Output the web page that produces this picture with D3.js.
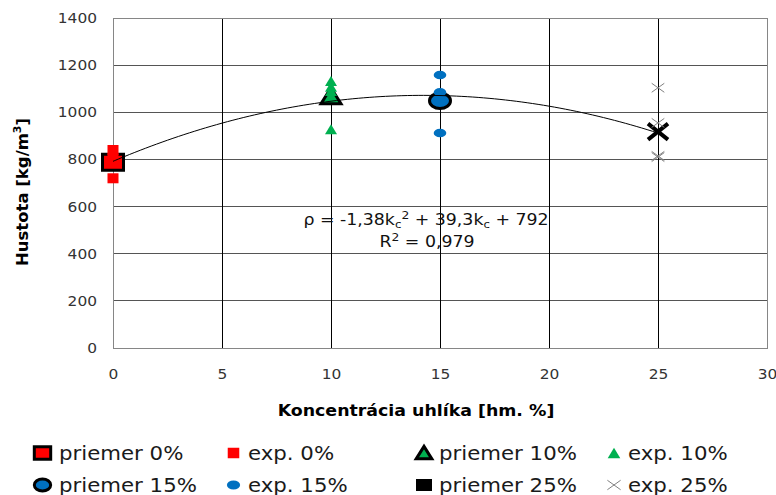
<!DOCTYPE html>
<html>
<head>
<meta charset="utf-8">
<script src="https://cdn.jsdelivr.net/npm/d3@7"></script>
<style>
  body { margin: 0; background: #fff; }
  text { font-family: "DejaVu Sans", Verdana, sans-serif; }
</style>
</head>
<body>
<svg id="chart" width="776" height="495"></svg>
<script>
// concentrations and measured densities
const concentrations = [0, 10, 15, 25];
const priemer = [788, 1068, 1049, 918];
const exp0 = [840, 805, 790, 720];
const exp10 = [1133, 1108, 1090, 928];
const exp15 = [1158, 1085, 912];
const exp25 = [1104, 955, 815, 810];
const fitCoef = [-1.38, 39.3, 792]; // rho = a*k^2 + b*k + c
const xTicks = [0, 5, 10, 15, 20, 25, 30];
const yTicks = [0, 200, 400, 600, 800, 1000, 1200, 1400];
const legendLabels = ["priemer 0%", "exp. 0%", "priemer 10%", "exp. 10%",
  "priemer 15%", "exp. 15%", "priemer 25%", "exp. 25%"];

const margin = { top: 18, right: 9, bottom: 147, left: 113 },
  width = 776 - margin.left - margin.right,
  height = 495 - margin.top - margin.bottom;

const SX = 1.12; // horizontal stretch of glyphs in the original picture

const svg = d3.select("#chart");
const g = svg.append("g").attr("transform", `translate(${margin.left},${margin.top})`);

const x = d3.scaleLinear().domain([0, 30]).range([0, width]);
const y = d3.scaleLinear().domain([0, 1400]).range([height, 0]);

function stretch(sel, k) {
  sel.each(function () {
    const w = this.getComputedTextLength();
    d3.select(this).attr("textLength", w * k).attr("lengthAdjust", "spacingAndGlyphs");
  });
}

// horizontal gridlines
g.append("g")
  .selectAll("line")
  .data(yTicks.slice(1, -1))
  .join("line")
  .attr("x1", 0).attr("x2", width)
  .attr("y1", d => y(d)).attr("y2", d => y(d))
  .attr("stroke", "#555").attr("shape-rendering", "crispEdges");

// vertical gridlines
g.append("g")
  .selectAll("line")
  .data(xTicks.slice(1, -1))
  .join("line")
  .attr("x1", d => x(d)).attr("x2", d => x(d))
  .attr("y1", 0).attr("y2", height)
  .attr("stroke", "#000").attr("shape-rendering", "crispEdges");

// plot border
g.append("rect")
  .attr("x", 0).attr("y", 0).attr("width", width).attr("height", height)
  .attr("fill", "none").attr("stroke", "#868686").attr("shape-rendering", "crispEdges");

// axes (labels only)
const yAxis = g.append("g")
  .call(d3.axisLeft(y).tickValues(yTicks).tickFormat(d3.format("d")).tickSize(0).tickPadding(16));
const xAxis = g.append("g").attr("transform", `translate(0,${height})`)
  .call(d3.axisBottom(x).tickValues(xTicks).tickFormat(d3.format("d")).tickSize(0).tickPadding(21));
[yAxis, xAxis].forEach(a => {
  a.select(".domain").remove();
  a.selectAll("text")
    .attr("font-family", "DejaVu Sans")
    .attr("font-size", "14px")
    .attr("fill", "#333");
  stretch(a.selectAll("text"), 1.1);
});

// markers
const RED = "#ff0000", GREEN = "#00b050", BLUE = "#0070c0";

function marker(sel, type, s) {
  // s: scale factor, shapes are wider than tall as in the picture
  if (type === "bigSquare") {
    sel.append("rect").attr("x", -10.5 * s).attr("y", -8 * s).attr("width", 21 * s).attr("height", 16 * s)
      .attr("fill", RED).attr("stroke", "#000").attr("stroke-width", 3);
  } else if (type === "square") {
    sel.append("rect").attr("x", -5.5 * s).attr("y", -5 * s).attr("width", 11 * s).attr("height", 10 * s)
      .attr("fill", RED);
  } else if (type === "bigTriangle") {
    sel.append("path").attr("d", `M0,${-8.5 * s}L${10 * s},${7.5 * s}L${-10 * s},${7.5 * s}Z`)
      .attr("fill", GREEN).attr("stroke", "#000").attr("stroke-width", 3).attr("stroke-linejoin", "miter");
  } else if (type === "triangle") {
    sel.append("path").attr("d", `M0,${-5 * s}L${6 * s},${5 * s}L${-6 * s},${5 * s}Z`)
      .attr("fill", GREEN);
  } else if (type === "bigCircle") {
    sel.append("ellipse").attr("rx", 10.5 * s).attr("ry", 7.8 * s)
      .attr("fill", BLUE).attr("stroke", "#000").attr("stroke-width", 3);
  } else if (type === "circle") {
    sel.append("ellipse").attr("rx", 6.3 * s).attr("ry", 4.3 * s).attr("fill", BLUE);
  } else if (type === "bigX") {
    sel.append("path").attr("d", `M${-10 * s},${-8 * s}L${10 * s},${8 * s}M${10 * s},${-8 * s}L${-10 * s},${8 * s}`)
      .attr("stroke", "#000").attr("stroke-width", 4).attr("fill", "none");
  } else if (type === "x") {
    sel.append("path").attr("d", `M${-6.3 * s},${-4.5 * s}L${6.3 * s},${4.5 * s}M${6.3 * s},${-4.5 * s}L${-6.3 * s},${4.5 * s}`)
      .attr("stroke", "#808080").attr("stroke-width", 1).attr("fill", "none");
  } else if (type === "blackSquare") {
    sel.append("rect").attr("x", -8 * s).attr("y", -6 * s).attr("width", 16 * s).attr("height", 12 * s)
      .attr("fill", "#000");
  }
}

const series = [
  { k: concentrations[0], vals: [priemer[0]], type: "bigSquare" },
  { k: concentrations[0], vals: exp0, type: "square" },
  { k: concentrations[1], vals: [priemer[1]], type: "bigTriangle" },
  { k: concentrations[1], vals: exp10, type: "triangle" },
  { k: concentrations[2], vals: [priemer[2]], type: "bigCircle" },
  { k: concentrations[2], vals: exp15, type: "circle" },
  { k: concentrations[3], vals: [priemer[3]], type: "bigX" },
  { k: concentrations[3], vals: exp25, type: "x" }
];

series.forEach(sr => {
  sr.vals.forEach(v => {
    const m = g.append("g").attr("transform", `translate(${x(sr.k)},${y(v)})`);
    marker(m, sr.type, 1);
  });
});

// polynomial trendline from the printed equation
const fitX = d3.range(0, 25.01, 0.25);
const line = d3.line()
  .x(d => x(d))
  .y(d => y(fitCoef[0] * d * d + fitCoef[1] * d + fitCoef[2]))
  .curve(d3.curveBasis);
g.append("path")
  .datum(fitX)
  .attr("d", line)
  .attr("fill", "none")
  .attr("stroke", "#000")
  .attr("stroke-width", 1);

// equation text
const eq = svg.append("g").attr("transform", `translate(426,225) scale(${SX},1)`);
const eqText = eq.append("text").attr("text-anchor", "middle").attr("font-size", "15.5px").attr("fill", "#111");
eqText.append("tspan").text("ρ = -1,38k");
eqText.append("tspan").attr("font-size", "10.5px").attr("dy", 3).text("c");
eqText.append("tspan").attr("font-size", "11px").attr("dy", -9).text("2");
eqText.append("tspan").attr("dy", 6).text(" + 39,3k");
eqText.append("tspan").attr("font-size", "10.5px").attr("dy", 3).text("c");
eqText.append("tspan").attr("dy", -3).text(" + 792");

const r2 = svg.append("g").attr("transform", `translate(427,246.5) scale(${SX},1)`);
const r2Text = r2.append("text").attr("text-anchor", "middle").attr("font-size", "15.5px").attr("fill", "#111");
r2Text.append("tspan").text("R");
r2Text.append("tspan").attr("font-size", "11px").attr("dy", -6).text("2");
r2Text.append("tspan").attr("dy", 6).text(" = 0,979");

// axis titles
const xt = svg.append("text")
  .attr("x", 416).attr("y", 416)
  .attr("text-anchor", "middle")
  .attr("font-size", "15.5px").attr("font-weight", "bold")
  .text("Koncentrácia uhlíka [hm. %]");
stretch(xt, SX);

const yt = svg.append("text")
  .attr("transform", "translate(28,192) rotate(-90)")
  .attr("text-anchor", "middle")
  .attr("font-size", "16.5px").attr("font-weight", "bold");
yt.append("tspan").text("Hustota [kg/m");
yt.append("tspan").attr("font-size", "11px").attr("dy", -7).text("3");
yt.append("tspan").attr("dy", 7).text("]");

// legend
const legendTypes = ["bigSquare", "square", "bigTriangle", "triangle", "bigCircle", "circle", "blackSquare", "x"];
const colX = [42.5, 233.5, 424, 614];
const textX = [59, 248, 439, 628];
const rowY = [453, 485];
legendLabels.forEach((lab, i) => {
  const row = Math.floor(i / 4), col = i % 4;
  const isBig = ["bigSquare", "bigTriangle", "bigCircle"].includes(legendTypes[i]);
  const m = svg.append("g").attr("transform", `translate(${colX[col]},${rowY[row]})`);
  marker(m, legendTypes[i], isBig ? 0.78 : (legendTypes[i] === "blackSquare" ? 1 : 1.05));
  const t = svg.append("text")
    .attr("x", textX[col]).attr("y", rowY[row] + 7)
    .attr("font-size", "19px").attr("fill", "#1a1a1a")
    .text(lab);
  stretch(t, SX);
});
</script>
</body>
</html>
